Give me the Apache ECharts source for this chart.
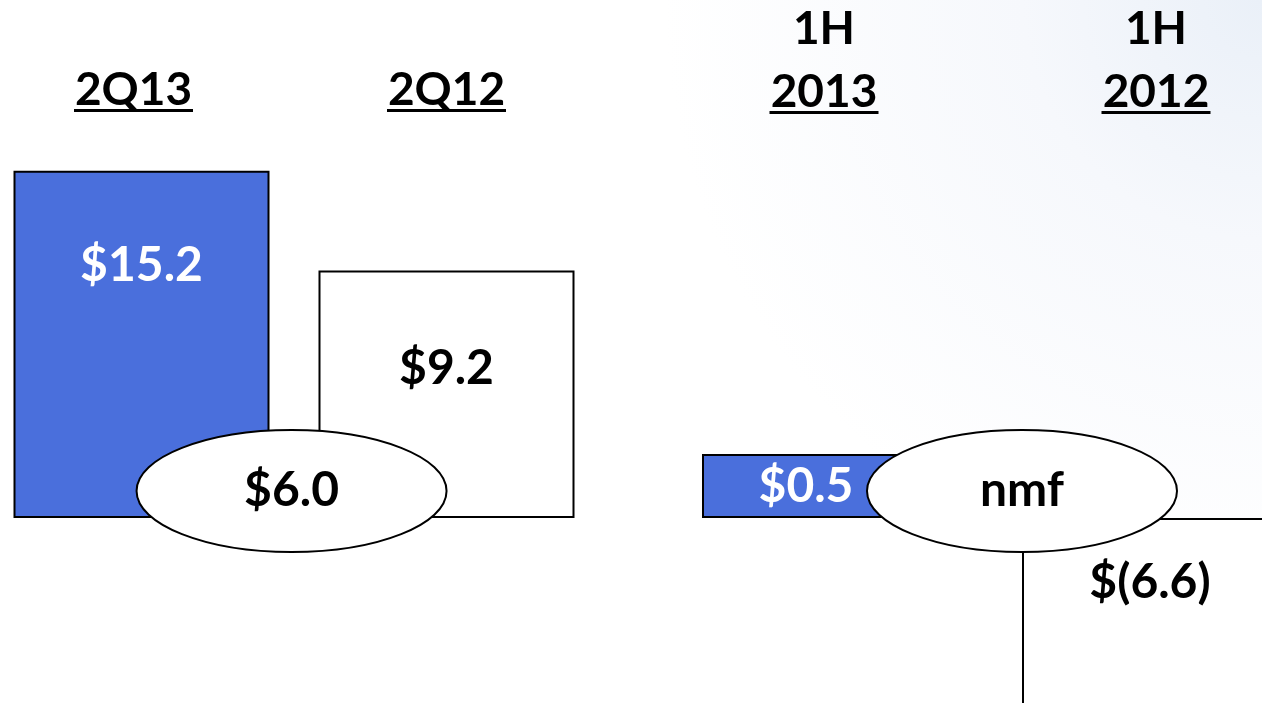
<!DOCTYPE html>
<html>
<head>
<meta charset="utf-8">
<title>2Q13 / 1H 2013</title>
<script src="https://cdn.jsdelivr.net/npm/echarts@6/dist/echarts.min.js"></script>
<style>
  html, body { margin: 0; padding: 0; background: #fff; }
  #main { width: 1262px; height: 703px; }
</style>
</head>
<body>
<div id="main"></div>
<script>
// headers
const quarterCats = ['2Q13', '2Q12'];
const halfCats = ['1H 2013', '1H 2012'];
// reported values ($)
const quarterValues = [15.2, 9.2];
const halfValues = [0.5, -6.6];
// the slide is not drawn to scale, so bar lengths are read off the picture
const quarterBars = [15.1, 10.76];
const halfBars = [2.78, -9];
// change bubbles
const changeLabels = ['$6.0', 'nmf'];

const BLUE = '#4a6fdc';
const FONT = 'Lato';
const quarterFills = [BLUE, '#ffffff'];
const halfFills = [BLUE, '#ffffff'];

const fmt = v => v < 0 ? '$(' + Math.abs(v).toFixed(1) + ')' : '$' + v.toFixed(1);

const ctx = document.createElement('canvas').getContext('2d');
ctx.font = 'bold 46px ' + FONT;
const textW = s => Math.round(ctx.measureText(s).width);

var myChart = echarts.init(document.getElementById('main'));

function barData(bars, fills, labelPos) {
    return bars.map((b, i) => ({
        value: b,
        itemStyle: { color: fills[i] },
        label: { position: labelPos[i], color: fills[i] === BLUE ? '#fff' : '#000' }
    }));
}

function headerAxis(gridIndex, cats, margin, nudges, twoLine) {
    const rich = {
        h: { fontFamily: FONT, fontWeight: 'bold', fontSize: 46, color: '#000', lineHeight: 89 },
        t: { fontFamily: FONT, fontWeight: 'bold', fontSize: 46, color: '#000', lineHeight: 37 }
    };
    cats.forEach((c, i) => {
        const word = twoLine ? c.split(' ')[1] : c;
        rich['u' + i] = { width: textW(word) + 2, height: 3, lineHeight: 3, backgroundColor: '#000' };
    });
    return {
        type: 'category',
        gridIndex: gridIndex,
        position: 'top',
        data: cats.map((c, i) => ({
            value: c,
            textStyle: { padding: nudges[i] < 0 ? [0, -2 * nudges[i], 0, 0] : [0, 0, 0, 2 * nudges[i]] }
        })),
        axisLine: { show: false },
        axisTick: { show: false },
        axisLabel: {
            interval: 0,
            margin: margin,
            formatter(val, idx) {
                if (twoLine) {
                    const parts = val.split(' ');
                    return '{h|' + parts[0] + '}\n{t|' + parts[1] + '}\n{u' + idx + '|}';
                }
                return '{t|' + val + '}\n{u' + idx + '|}';
            },
            rich: rich
        }
    };
}

function valueAxis(gridIndex) {
    return { type: 'value', gridIndex: gridIndex, min: -10, max: 17, show: false };
}

function barSeries(idx, bars, values, fills, labelPos) {
    return {
        type: 'bar',
        xAxisIndex: idx,
        yAxisIndex: idx,
        barWidth: 256,
        silent: true,
        data: barData(bars, fills, labelPos),
        itemStyle: { borderColor: '#000', borderWidth: 2 },
        label: {
            show: true,
            fontFamily: FONT,
            fontWeight: 'bold',
            fontSize: 48,
            align: 'center',
            verticalAlign: 'middle',
            formatter: p => fmt(values[p.dataIndex])
        }
    };
}

// oval with the change, sitting across the gap between the two bars
function bubbleSeries(idx, t) {
    return {
        type: 'custom',
        xAxisIndex: idx,
        yAxisIndex: idx,
        z: 5,
        silent: true,
        data: [[0, 0]],
        renderItem(params, api) {
            const a = api.coord([0, 0]);
            const b = api.coord([1, 0]);
            const cx = a[0] + t * (b[0] - a[0]);
            const cy = a[1] - 27;
            return {
                type: 'group',
                children: [
                    { type: 'ellipse', shape: { cx: cx, cy: cy, rx: 155, ry: 61 },
                      style: { fill: '#fff', stroke: '#000', lineWidth: 2 } },
                    { type: 'text', x: cx, y: cy,
                      style: { text: changeLabels[idx], fontFamily: FONT, fontWeight: 'bold', fontSize: 48,
                               fill: '#000', align: 'center', verticalAlign: 'middle' } }
                ]
            };
        }
    };
}

myChart.setOption({
    animation: false,
    graphic: [{
        type: 'rect',
        z: -10,
        silent: true,
        shape: { x: 0, y: 0, width: 1262, height: 703 },
        style: {
            fill: new echarts.graphic.RadialGradient(1, 0, 0.85, [
                { offset: 0, color: '#eaf0f8' },
                { offset: 0.4, color: '#f6f8fc' },
                { offset: 1, color: '#ffffff' }
            ])
        }
    }],
    grid: [
        { left: -11, width: 610, top: 127, bottom: -45, outerBoundsMode: 'none', containLabel: false },
        { left: 670, width: 640, top: 127, bottom: -45, outerBoundsMode: 'none', containLabel: false }
    ],
    xAxis: [
        headerAxis(0, quarterCats, 15, [-8, 0], false),
        headerAxis(1, halfCats, 13, [-6, 6], true)
    ],
    yAxis: [valueAxis(0), valueAxis(1)],
    series: [
        barSeries(0, quarterBars, quarterValues, quarterFills, [['50%', 95], ['50%', 98]]),
        barSeries(1, halfBars, halfValues, halfFills, [[104, '50%'], ['50%', 65]]),
        bubbleSeries(0, 0.492),
        bubbleSeries(1, 0.6)
    ]
});
</script>
</body>
</html>
